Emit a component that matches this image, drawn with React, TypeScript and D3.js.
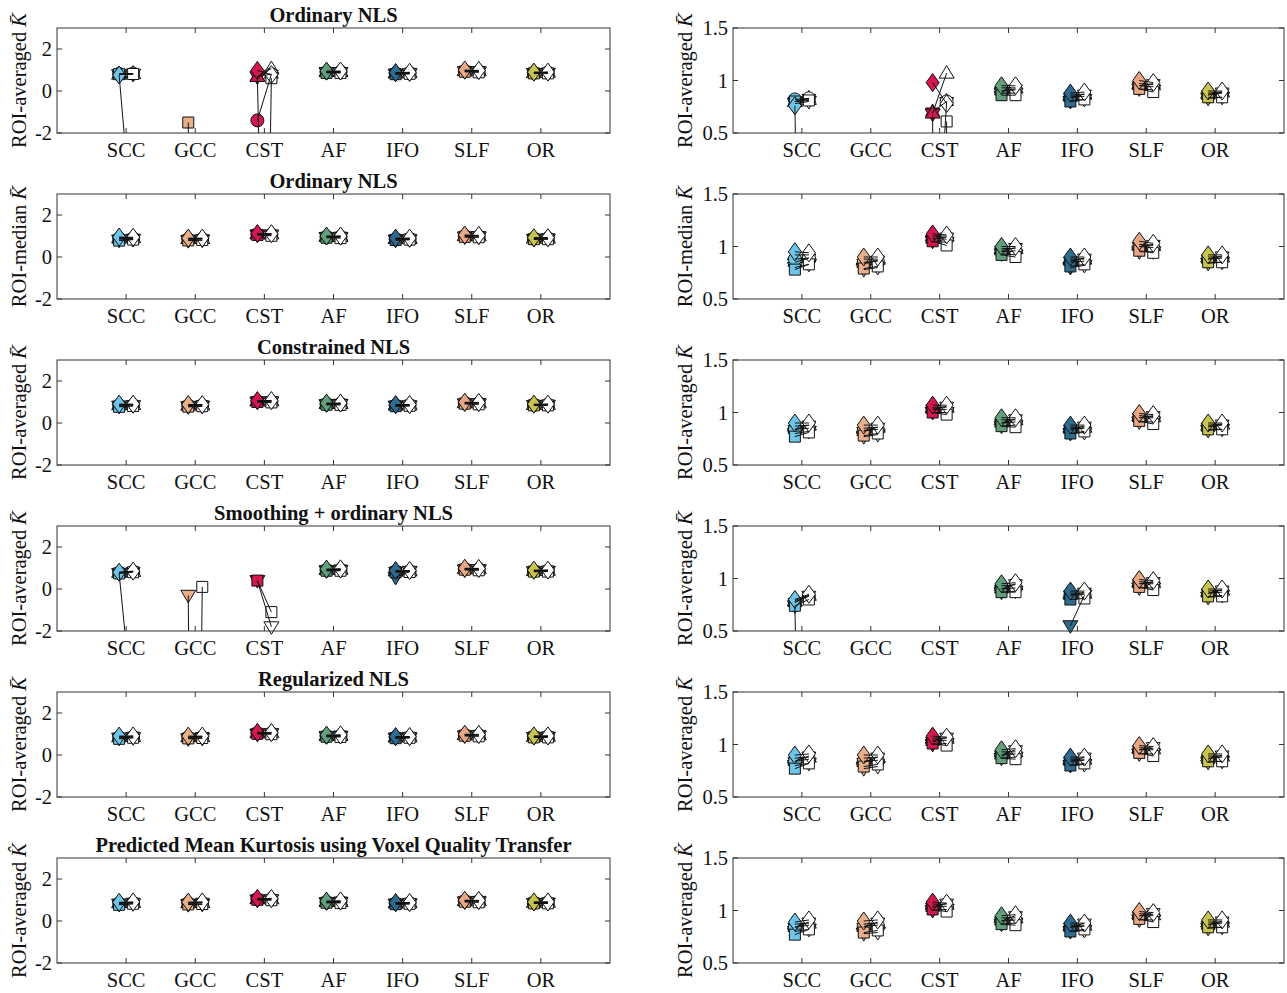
import React from 'react';
import * as d3 from 'd3';

const tracts = ['SCC', 'GCC', 'CST', 'AF', 'IFO', 'SLF', 'OR'];
const tractColors = ['#6fc5e8', '#e8b08a', '#d5174f', '#62a07d', '#2f6b8f', '#e8a886', '#c9c452'];
const methodTitles = ['Ordinary NLS', 'Ordinary NLS', 'Constrained NLS', 'Smoothing + ordinary NLS', 'Regularized NLS', 'Predicted Mean Kurtosis using Voxel Quality Transfer'];
const yLabelPrefixes = ['ROI-averaged ', 'ROI-median ', 'ROI-averaged ', 'ROI-averaged ', 'ROI-averaged ', 'ROI-averaged '];
const yLabelAccents = ['\u0304', '\u0304', '\u0304', '\u0304', '\u0304', '\u0302'];
// series order in the value arrays: diamond, square, circle, triangleUp, triangleDown, hexagram
const shapeOfSeries = ['diamond', 'square', 'circle', 'triUp', 'triDown', 'hexagram'];
const seriesOrder = [5, 4, 3, 2, 1, 0];

const leftYTicks = [-2, 0, 2];
const rightYTicks = [0.5, 1, 1.5];
const leftYDomain = [-2, 3];
const rightYDomain = [0.5, 1.5];

// Ordinary NLS (ROI-averaged)
const ordAvgFilled = [
  [0.76, 0.80, 0.82, 0.80, 0.78, 0.80],
  [-60, -1.5, -60, -60, -60, -60],
  [0.98, -40, -1.4, 0.69, 0.68, 0.70],
  [0.95, 0.86, 0.90, 0.93, 0.88, 0.90],
  [0.88, 0.80, 0.84, 0.86, 0.80, 0.84],
  [1.00, 0.92, 0.95, 0.97, 0.92, 0.95],
  [0.90, 0.84, 0.87, 0.88, 0.83, 0.86],
];
const ordAvgWhite = [
  [-7, 0.81, 0.83, 0.82, 0.80, 0.83],
  [-60, -80, -60, -60, -60, -60],
  [0.78, 0.61, 0.80, 1.07, -30, 0.80],
  [0.95, 0.86, 0.91, 0.93, 0.88, 0.92],
  [0.89, 0.82, 0.85, 0.87, 0.82, 0.87],
  [0.98, 0.89, 0.94, 0.96, 0.91, 0.97],
  [0.90, 0.84, 0.88, 0.89, 0.84, 0.89],
];
// Ordinary NLS (ROI-median)
const ordMedFilled = [
  [0.95, 0.78, 0.88, 0.92, 0.80, 0.85],
  [0.90, 0.79, 0.85, 0.88, 0.78, 0.84],
  [1.12, 1.05, 1.08, 1.10, 1.05, 1.07],
  [1.00, 0.92, 0.95, 0.98, 0.93, 0.96],
  [0.90, 0.81, 0.85, 0.88, 0.80, 0.86],
  [1.05, 0.96, 1.00, 1.02, 0.95, 1.00],
  [0.92, 0.85, 0.88, 0.90, 0.84, 0.88],
];
const ordMedWhite = [
  [0.94, 0.83, 0.89, 0.92, 0.83, 0.89],
  [0.90, 0.81, 0.86, 0.88, 0.80, 0.87],
  [1.11, 1.01, 1.07, 1.10, 1.04, 1.09],
  [1.00, 0.90, 0.96, 0.98, 0.92, 0.99],
  [0.90, 0.83, 0.86, 0.88, 0.82, 0.89],
  [1.03, 0.94, 0.99, 1.01, 0.95, 1.02],
  [0.92, 0.85, 0.89, 0.90, 0.85, 0.91],
];
// Constrained NLS
const conFilled = [
  [0.90, 0.77, 0.84, 0.87, 0.80, 0.84],
  [0.88, 0.78, 0.83, 0.85, 0.77, 0.82],
  [1.07, 1.00, 1.03, 1.05, 1.00, 1.03],
  [0.95, 0.87, 0.90, 0.93, 0.87, 0.90],
  [0.88, 0.80, 0.84, 0.86, 0.80, 0.84],
  [0.99, 0.92, 0.95, 0.97, 0.91, 0.95],
  [0.90, 0.84, 0.87, 0.88, 0.83, 0.86],
];
const conWhite = [
  [0.90, 0.81, 0.85, 0.88, 0.82, 0.88],
  [0.88, 0.80, 0.84, 0.86, 0.79, 0.86],
  [1.07, 0.98, 1.03, 1.05, 1.00, 1.06],
  [0.95, 0.86, 0.91, 0.93, 0.88, 0.94],
  [0.88, 0.82, 0.85, 0.86, 0.81, 0.87],
  [0.98, 0.89, 0.95, 0.96, 0.91, 0.97],
  [0.90, 0.84, 0.88, 0.89, 0.84, 0.89],
];
// Smoothing + ordinary NLS
const smoFilled = [
  [0.80, 0.74, 0.78, 0.79, 0.74, 0.77],
  [-60, -60, -60, -60, -0.3, -60],
  [-60, 0.4, -60, -60, 0.4, -60],
  [0.95, 0.87, 0.90, 0.93, 0.87, 0.90],
  [0.88, 0.80, 0.84, 0.86, 0.55, 0.84],
  [0.99, 0.92, 0.95, 0.97, 0.91, 0.95],
  [0.90, 0.83, 0.86, 0.88, 0.82, 0.86],
];
const smoWhite = [
  [0.85, 0.80, 0.83, 0.84, -6, 0.84],
  [-60, 0.1, -60, -60, -80, -60],
  [-60, -1.1, -60, -60, -1.8, -60],
  [0.96, 0.87, 0.91, 0.94, 0.88, 0.95],
  [0.88, 0.81, 0.85, 0.86, 0.84, 0.87],
  [0.98, 0.89, 0.95, 0.96, 0.91, 0.97],
  [0.90, 0.83, 0.87, 0.89, 0.84, 0.89],
];
// Regularized NLS
const regFilled = [
  [0.90, 0.77, 0.84, 0.87, 0.80, 0.84],
  [0.90, 0.79, 0.84, 0.87, 0.77, 0.83],
  [1.08, 1.01, 1.04, 1.06, 1.00, 1.03],
  [0.95, 0.87, 0.90, 0.93, 0.87, 0.90],
  [0.88, 0.80, 0.84, 0.86, 0.80, 0.84],
  [0.99, 0.92, 0.95, 0.97, 0.91, 0.95],
  [0.91, 0.84, 0.87, 0.89, 0.83, 0.86],
];
const regWhite = [
  [0.91, 0.82, 0.86, 0.88, 0.82, 0.89],
  [0.90, 0.81, 0.85, 0.88, 0.79, 0.88],
  [1.07, 0.99, 1.04, 1.06, 1.01, 1.07],
  [0.96, 0.86, 0.91, 0.93, 0.88, 0.95],
  [0.88, 0.82, 0.85, 0.86, 0.81, 0.88],
  [0.98, 0.89, 0.95, 0.96, 0.91, 0.98],
  [0.91, 0.84, 0.88, 0.89, 0.84, 0.90],
];
// Predicted (VQT)
const vqtFilled = [
  [0.89, 0.77, 0.84, 0.87, 0.80, 0.84],
  [0.90, 0.79, 0.85, 0.87, 0.78, 0.84],
  [1.08, 1.01, 1.04, 1.06, 1.00, 1.03],
  [0.95, 0.87, 0.90, 0.93, 0.87, 0.90],
  [0.88, 0.80, 0.84, 0.86, 0.80, 0.84],
  [0.99, 0.92, 0.95, 0.97, 0.91, 0.95],
  [0.91, 0.84, 0.87, 0.89, 0.83, 0.86],
];
const vqtWhite = [
  [0.91, 0.82, 0.86, 0.88, 0.82, 0.89],
  [0.91, 0.81, 0.86, 0.88, 0.79, 0.89],
  [1.07, 0.99, 1.04, 1.06, 1.01, 1.07],
  [0.96, 0.86, 0.91, 0.93, 0.88, 0.95],
  [0.88, 0.82, 0.85, 0.86, 0.81, 0.88],
  [0.98, 0.89, 0.95, 0.96, 0.91, 0.98],
  [0.91, 0.84, 0.88, 0.89, 0.84, 0.90],
];

const filledSets = [ordAvgFilled, ordMedFilled, conFilled, smoFilled, regFilled, vqtFilled];
const whiteSets = [ordAvgWhite, ordMedWhite, conWhite, smoWhite, regWhite, vqtWhite];

const FONT = '"Liberation Serif", "Times New Roman", serif';
const FS = 20.5;

function hexagramPath(r: number) {
  const pts: string[] = [];
  const ri = r / Math.sqrt(3);
  for (let i = 0; i < 12; i++) {
    const a = -Math.PI / 2 + (i * Math.PI) / 6;
    const rr = i % 2 === 0 ? r : ri;
    pts.push(`${(rr * Math.cos(a)).toFixed(2)},${(rr * Math.sin(a)).toFixed(2)}`);
  }
  return 'M' + pts.join('L') + 'Z';
}

function Marker({ shape, x, y, fill }: { shape: string; x: number; y: number; fill: string }) {
  const common = { fill, stroke: '#111', strokeWidth: 1 };
  const t = `translate(${x},${y})`;
  switch (shape) {
    case 'diamond':
      return <path transform={t} d="M0,-9L6.5,0L0,9L-6.5,0Z" {...common} />;
    case 'square':
      return <path transform={t} d="M-5.5,-5.5h11v11h-11Z" {...common} />;
    case 'circle':
      return <circle cx={x} cy={y} r={6.5} {...common} />;
    case 'triUp':
      return <path transform={t} d="M0,-7.5L7.5,5L-7.5,5Z" {...common} />;
    case 'triDown':
      return <path transform={t} d="M0,7.5L7.5,-5L-7.5,-5Z" {...common} />;
    default:
      return <path transform={t} d={hexagramPath(8)} {...common} />;
  }
}

function Panel(props: {
  id: string; x0: number; x1: number; top: number; height: number; labelOffset: number;
  yDomain: number[]; yTicks: number[]; title?: string; labelPrefix: string; accent: string;
  filled: number[][]; white: number[][];
}) {
  const { id, x0, x1, top, height, labelOffset, yDomain, yTicks, title, labelPrefix, accent, filled, white } = props;
  const x = d3.scaleLinear().domain([0, 8]).range([x0, x1]);
  const y = d3.scaleLinear().domain(yDomain).range([top + height, top]);
  const inRange = (v: number) => v >= yDomain[0] - 1e-9 && v <= yDomain[1] + 1e-9;
  const off = 7;
  const lines: React.ReactElement[] = [];
  const marks: React.ReactElement[] = [];
  tracts.forEach((t, ti) => {
    const cx = x(ti + 1);
    seriesOrder.forEach((si) => {
      const fv = filled[ti][si];
      const wv = white[ti][si];
      lines.push(
        <line key={`l${ti}-${si}`} x1={cx - off} y1={y(fv)} x2={cx + off} y2={y(wv)} stroke="#111" strokeWidth={1} />
      );
      if (inRange(fv)) marks.push(<Marker key={`f${ti}-${si}`} shape={shapeOfSeries[si]} x={cx - off} y={y(fv)} fill={tractColors[ti]} />);
    });
    seriesOrder.forEach((si) => {
      const wv = white[ti][si];
      if (inRange(wv)) marks.push(<Marker key={`w${ti}-${si}`} shape={shapeOfSeries[si]} x={cx + off} y={y(wv)} fill="#fff" />);
    });
  });
  const midY = top + height / 2;
  return (
    <g>
      <defs>
        <clipPath id={id}>
          <rect x={x0} y={top} width={x1 - x0} height={height} />
        </clipPath>
      </defs>
      <rect x={x0} y={top} width={x1 - x0} height={height} fill="#fff" />
      {marks}
      <g clipPath={`url(#${id})`}>{lines}</g>
      <rect x={x0} y={top} width={x1 - x0} height={height} fill="none" stroke="#333" strokeWidth={1} />
      {tracts.map((t, ti) => (
        <g key={t}>
          <line x1={x(ti + 1)} x2={x(ti + 1)} y1={top + height} y2={top + height - 5} stroke="#333" />
          <line x1={x(ti + 1)} x2={x(ti + 1)} y1={top} y2={top + 5} stroke="#333" />
          <text x={x(ti + 1)} y={top + height + 24} textAnchor="middle" fontFamily={FONT} fontSize={FS} fill="#111">{t}</text>
        </g>
      ))}
      {yTicks.map((v) => (
        <g key={v}>
          <line x1={x0} x2={x0 + 5} y1={y(v)} y2={y(v)} stroke="#333" />
          <line x1={x1} x2={x1 - 5} y1={y(v)} y2={y(v)} stroke="#333" />
          <text x={x0 - 5} y={y(v)} dy="0.35em" textAnchor="end" fontFamily={FONT} fontSize={FS} fill="#111">{String(v)}</text>
        </g>
      ))}
      {title && (
        <text x={(x0 + x1) / 2} y={top - 6} textAnchor="middle" fontFamily={FONT} fontSize={FS} fontWeight="bold" fill="#111">{title}</text>
      )}
      <text transform={`translate(${x0 - labelOffset},${midY}) rotate(-90)`} textAnchor="middle" fontFamily={FONT} fontSize={FS} fill="#111">
        {labelPrefix}
        <tspan fontStyle="italic">{'K' + accent}</tspan>
      </text>
    </g>
  );
}

export default function App() {
  const rowTop = (i: number) => 28 + i * 166;
  return (
    <svg width={1287} height={993} style={{ position: 'absolute', left: 0, top: 0, background: '#fff' }}>
      <rect x={0} y={0} width={1287} height={993} fill="#fff" />
      {methodTitles.map((m, i) => (
        <g key={i}>
          <Panel id={`cl${i}`} x0={57} x1={610} top={rowTop(i)} height={105} labelOffset={31} yDomain={leftYDomain} yTicks={leftYTicks}
            title={m} labelPrefix={yLabelPrefixes[i]} accent={yLabelAccents[i]} filled={filledSets[i]} white={whiteSets[i]} />
          <Panel id={`cr${i}`} x0={733} x1={1284} top={rowTop(i)} height={105} labelOffset={41} yDomain={rightYDomain} yTicks={rightYTicks}
            labelPrefix={yLabelPrefixes[i]} accent={yLabelAccents[i]} filled={filledSets[i]} white={whiteSets[i]} />
        </g>
      ))}
    </svg>
  );
}
